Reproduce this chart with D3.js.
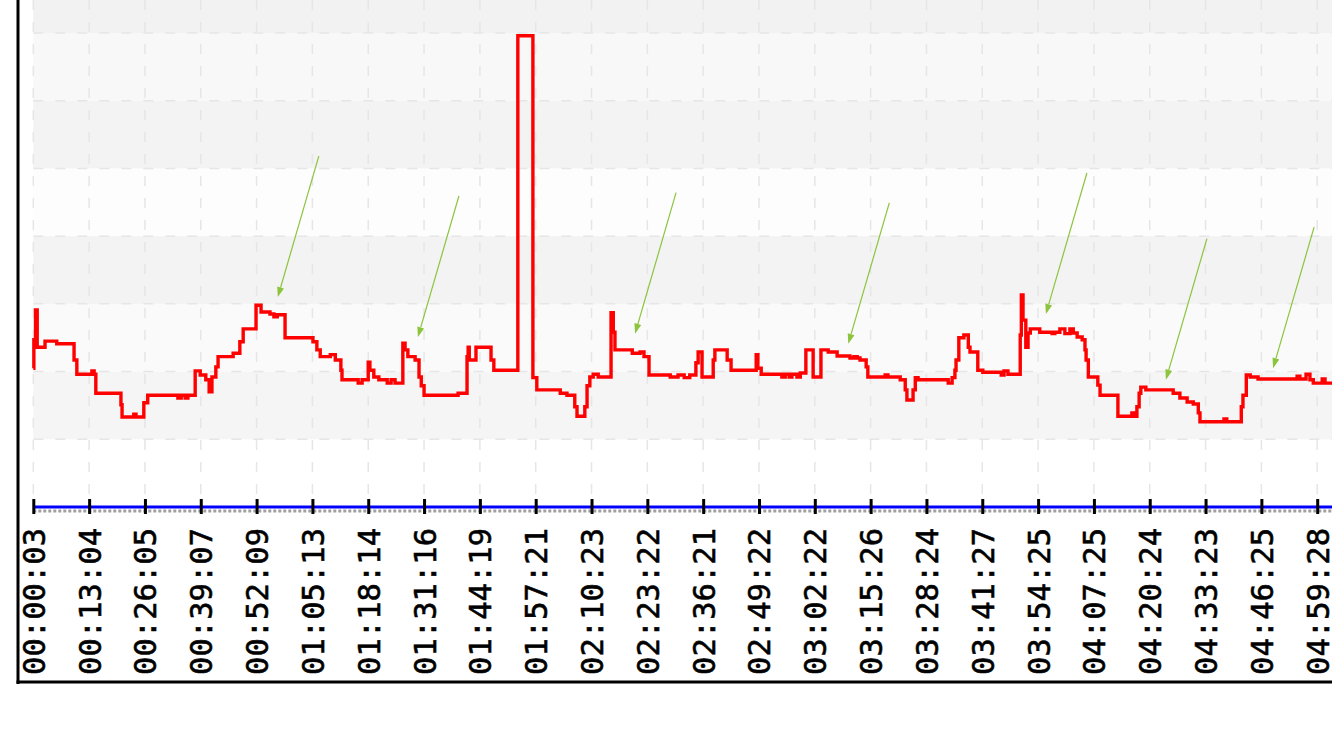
<!DOCTYPE html>
<html><head><meta charset="utf-8">
<script src="https://cdn.jsdelivr.net/npm/d3@7/dist/d3.min.js"></script>
<style>html,body{margin:0;padding:0;background:#fff;overflow:hidden}</style>
</head><body>
<svg id="chart" width="1332" height="753"></svg>
<script>
// ---- data ----
const tickLabels = ["00:00:03","00:13:04","00:26:05","00:39:07","00:52:09","01:05:13","01:18:14","01:31:16",
  "01:44:19","01:57:21","02:10:23","02:23:22","02:36:21","02:49:22","03:02:22","03:15:26","03:28:24",
  "03:41:27","03:54:25","04:07:25","04:20:24","04:33:23","04:46:25","04:59:28"];
const tickSamples = [0,100,200,300,400,500,600,700,800,900,1000,1100,1200,1300,1400,1500,1600,1700,1800,1900,2000,2100,2200,2300];

// red series: sample index where each level begins, and the level
const redN = [0,1,4,7,21,42,73,78,105,109,112,157,159,180,184,198,205,259,265,272,277,290,299,309,315,320,327,331,358,370,
  376,399,408,424,431,437,451,501,508,514,532,541,551,553,582,589,600,603,610,619,634,641,648,662,666,671,684,691,695,700,
  761,777,779,781,793,820,825,868,895,902,944,956,970,974,988,992,997,1003,1012,1035,1039,1042,1073,1087,1094,1103,1141,1155,1166,1176,
  1187,1191,1198,1218,1221,1243,1250,1295,1298,1304,1341,1347,1354,1359,1368,1374,1384,1397,1411,1424,1440,1463,1470,1476,1481,1492,1495,1526,1531,1553,
  1562,1565,1576,1580,1585,1639,1646,1651,1653,1658,1667,1675,1678,1692,1701,1734,1739,1746,1768,1770,1773,1778,1782,1786,1803,1825,1830,1839,1848,1857,
  1863,1870,1879,1884,1886,1890,1907,1911,1943,1968,1972,1977,1981,1984,1993,2042,2054,2067,2078,2087,2090,2133,2138,2164,2167,2173,2180,2194,2264,2269,
  2280,2287,2293,2309,2314,2341];
const redV = [20.5,24.7,29.1,23.6,24.5,24.1,21.7,19.6,20.1,19.6,16.8,15.1,13.3,13.7,13.3,15.4,16.5,16.1,16.5,16.1,16.5,20.1,19.5,18.8,17.0,19.2,20.7,22.2,22.7,24.4,
  26.3,29.8,28.8,28.5,28.1,28.4,25.0,24.4,23.2,22.2,22.5,21.7,20.2,18.8,18.3,18.8,21.4,20.2,19.2,18.8,18.3,18.8,18.3,24.2,23.2,22.2,21.7,19.2,17.9,16.5,
  16.8,22.2,23.6,21.7,23.6,21.7,20.2,69.6,19.1,17.3,16.8,16.5,14.8,13.4,14.8,17.9,19.2,19.6,19.2,28.7,25.8,23.2,22.7,22.9,22.2,19.5,19.2,19.5,19.1,19.5,
  21.3,22.9,19.2,21.7,23.2,21.7,20.2,22.5,20.5,19.6,19.2,19.6,19.2,19.6,19.2,19.8,23.2,19.2,23.2,22.9,22.3,22.0,22.2,22.0,21.7,20.7,19.2,19.5,19.2,18.8,
  17.3,15.8,17.3,19.1,18.8,18.3,19.1,20.2,21.7,25.0,25.4,23.6,22.9,20.2,19.9,19.5,20.1,19.6,25.4,31.3,27.6,23.6,25.7,26.3,25.8,25.6,25.8,26.3,25.6,26.3,
  25.7,25.1,24.7,23.2,21.7,19.2,18.0,16.5,13.4,13.9,13.4,14.8,16.8,17.7,17.3,16.8,16.1,15.5,15.2,13.9,12.6,13.0,12.6,14.8,16.5,19.5,19.2,18.9,19.3,18.9,
  19.6,18.8,18.3,18.9,18.3,18.3];

// blue baseline series
const baseN = [0, 2341];
const baseV = [0, 0];

// y grid values
const yGridValues = [10,20,30,40,50,60,70];
const bandStarts = [0,10,20,30,40,50,60,70];
const bandColors = ["#ffffff","#f5f5f5","#fafafa","#f3f3f3","#fdfdfd","#f3f3f3","#f8f8f8","#f2f2f2"];

// annotation arrows: target point (sample, value)
const arrowN = [438,689,1078,1460,1814,2029,2221];
const arrowV = [31.0,25.1,25.6,24.1,28.5,18.8,20.5];

// ---- drawing ----
const svg = d3.select('#chart');
const plotLeft = 33.3, plotRight = 1332;
const x = d3.scaleLinear().domain([0, 2300]).range([33.3, 1317.2]);
const y = d3.scaleLinear().domain([0, 70]).range([507, 33]);

// bands
svg.append('g').selectAll('rect').data(bandStarts).join('rect')
  .attr('x', plotLeft).attr('width', plotRight - plotLeft)
  .attr('y', d => y(d + 10)).attr('height', d => y(d) - y(d + 10))
  .attr('fill', (d, i) => bandColors[i]);

// grid
const grid = svg.append('g').attr('stroke', '#e6e6e6').attr('stroke-width', 1.5).attr('stroke-dasharray', '10 12');
grid.selectAll('line.h').data(yGridValues).join('line').attr('class', 'h')
  .attr('x1', plotLeft).attr('x2', plotRight).attr('y1', d => y(d)).attr('y2', d => y(d));
grid.selectAll('line.v').data(tickSamples).join('line').attr('class', 'v')
  .attr('x1', d => x(d)).attr('x2', d => x(d)).attr('y1', 0).attr('y2', y(0));

// gray dotted axis line under baseline
svg.append('line').attr('x1', plotLeft).attr('x2', plotRight)
  .attr('y1', y(0) + 4).attr('y2', y(0) + 4)
  .attr('stroke', '#a0a0a0').attr('stroke-width', 3).attr('stroke-dasharray', '3 2');

// blue baseline
const lineGen = d3.line().curve(d3.curveStepAfter);
svg.append('path')
  .attr('d', lineGen(baseN.map((n, i) => [x(n), y(baseV[i])])))
  .attr('fill', 'none').attr('stroke', '#0000ff').attr('stroke-width', 3);

// red series
svg.append('path')
  .attr('d', lineGen(redN.map((n, i) => [x(n), y(redV[i])])))
  .attr('fill', 'none').attr('stroke', '#ff0000').attr('stroke-width', 3.4)
  .attr('stroke-linejoin', 'miter');

// x axis (ticks + labels)
const axis = d3.axisBottom(x).tickValues(tickSamples)
  .tickFormat((d, i) => tickLabels[i]).tickSizeInner(15).tickSizeOuter(0);
const ag = svg.append('g').attr('transform', `translate(0,${y(0) - 8})`).call(axis);
ag.select('.domain').remove();
ag.selectAll('.tick line').attr('stroke', '#000').attr('stroke-width', 3);
ag.selectAll('.tick text')
  .attr('x', 0).attr('y', 0).attr('dy', '0.36em')
  .attr('transform', 'translate(0,29) rotate(-90)')
  .attr('text-anchor', 'end')
  .attr('fill', '#000')
  .attr('stroke', '#000').attr('stroke-width', 0.6)
  .style('font-family', '"DejaVu Sans Mono", monospace')
  .style('font-size', '30.5px');

// arrows
const ag2 = svg.append('g');
arrowN.forEach((n, i) => {
  const tx = x(n), ty = y(arrowV[i]);
  const sx = tx + 41, sy = ty - 141;
  const dx = tx - sx, dy = ty - sy, len = Math.hypot(dx, dy);
  const ux = dx / len, uy = dy / len, px = -uy, py = ux;
  const bx = tx - 10 * ux, by = ty - 10 * uy;
  ag2.append('line').attr('x1', sx).attr('y1', sy).attr('x2', bx).attr('y2', by)
    .attr('stroke', '#8cc43c').attr('stroke-width', 1.2);
  ag2.append('path')
    .attr('d', `M${tx},${ty}L${bx + 3.5 * px},${by + 3.5 * py}L${bx - 3.5 * px},${by - 3.5 * py}Z`)
    .attr('fill', '#8cc43c');
});

// frame
svg.append('line').attr('x1', 18).attr('x2', 18).attr('y1', 0).attr('y2', 684)
  .attr('stroke', '#000').attr('stroke-width', 3);
svg.append('line').attr('x1', 16.5).attr('x2', 1332).attr('y1', 682).attr('y2', 682)
  .attr('stroke', '#000').attr('stroke-width', 3);
</script>
</body></html>
